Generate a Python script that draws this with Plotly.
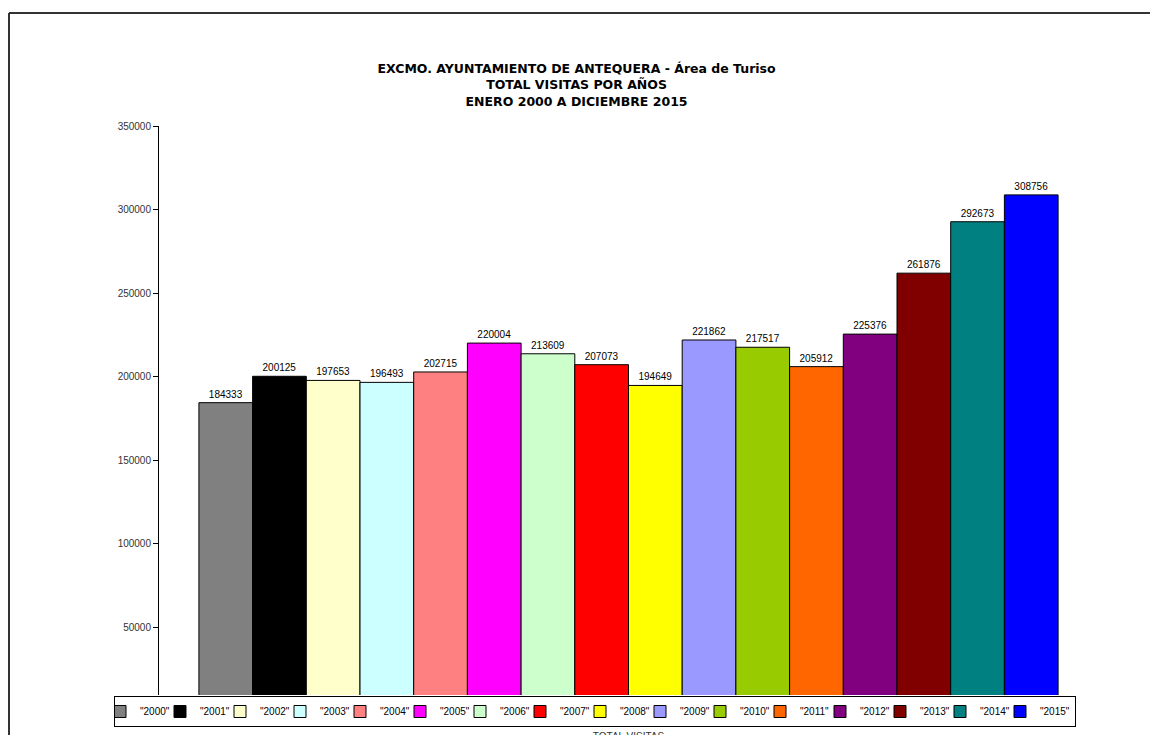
import plotly.graph_objects as go

years = ['"2000"', '"2001"', '"2002"', '"2003"', '"2004"', '"2005"', '"2006"', '"2007"',
         '"2008"', '"2009"', '"2010"', '"2011"', '"2012"', '"2013"', '"2014"', '"2015"']
visitas = [184333, 200125, 197653, 196493, 202715, 220004, 213609, 207073,
           194649, 221862, 217517, 205912, 225376, 261876, 292673, 308756]
colors = ["#808080", "#000000", "#FFFFCC", "#CCFFFF", "#FF8080", "#FF00FF", "#CCFFCC", "#FF0000",
          "#FFFF00", "#9999FF", "#99CC00", "#FF6600", "#800080", "#800000", "#008080", "#0000FF"]
category = ["TOTAL VISITAS"]
y_ticks = [50000, 100000, 150000, 200000, 250000, 300000, 350000]
y_top = 350000
y_bottom_visible = 9281  # value at the lower edge of the visible plot area (legend covers the rest)

fig = go.Figure()
for name, val, col in zip(years, visitas, colors):
    fig.add_trace(go.Bar(
        x=category, y=[val], name=name,
        marker=dict(color=col, line=dict(color="black", width=1)),
        text=[str(val)], textposition="outside",
        textfont=dict(size=10, color="black", family="Liberation Sans, Arial"),
        cliponaxis=False,
    ))

W, H = 1158, 735
L, R, T, B = 151, 68, 118, 48
ph = H - T - B
pw = W - L - R

def px_to_paper_x(px):
    return (px - L) / pw

def px_to_paper_y(py):
    return (H - B - py) / ph

fig.update_layout(
    width=W, height=H,
    margin=dict(l=L, r=R, t=T, b=B, pad=0, autoexpand=False),
    paper_bgcolor="white", plot_bgcolor="white",
    barmode="group", bargap=0.085, bargroupgap=0,
    font=dict(family="Liberation Sans, Arial", size=10, color="black"),
    title=dict(
        text="<b>EXCMO. AYUNTAMIENTO DE ANTEQUERA - Área de Turiso<br>TOTAL VISITAS POR AÑOS<br>ENERO 2000 A DICIEMBRE 2015</b>",
        x=0.491, xanchor="center", xref="container",
        y=1 - 65 / H, yanchor="top", yref="container",
        font=dict(size=12.5, color="black", family="DejaVu Sans, Liberation Sans, Arial"),
    ),
    yaxis=dict(
        range=[y_bottom_visible, y_top], tickvals=y_ticks, tickformat="d",
        showgrid=False, zeroline=False,
        showline=True, linecolor="black", linewidth=1,
        ticks="outside", ticklen=5, tickcolor="black",
        tickfont=dict(size=10, color="#333333"),
    ),
    xaxis=dict(
        showgrid=False, zeroline=False, showline=False, ticks="",
        tickfont=dict(size=10, color="#333333"),
        ticklabelstandoff=34,
    ),
    legend=dict(
        orientation="h",
        x=px_to_paper_x(106), xanchor="left",
        y=px_to_paper_y(688), yanchor="top",
        bgcolor="white", bordercolor="black", borderwidth=1,
        font=dict(size=10, color="black"),
        entrywidth=30, entrywidthmode="pixels",
        indentation=-15,
    ),
    showlegend=True,
)

# outer chart-area border (top and left edges visible)
fig.add_shape(type="line", xref="paper", yref="paper",
              x0=px_to_paper_x(1), x1=px_to_paper_x(1200),
              y0=px_to_paper_y(5), y1=px_to_paper_y(5),
              line=dict(color="#333333", width=2), layer="above")
fig.add_shape(type="line", xref="paper", yref="paper",
              x0=px_to_paper_x(1), x1=px_to_paper_x(1),
              y0=px_to_paper_y(5), y1=px_to_paper_y(760),
              line=dict(color="#333333", width=2), layer="above")

fig.write_html("out.html")
